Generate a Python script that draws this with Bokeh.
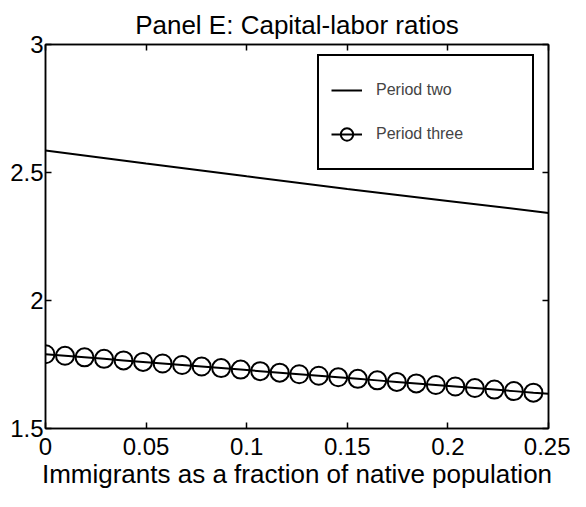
from bokeh.plotting import figure
from bokeh.models import (Range1d, LinearAxis, FixedTicker, Legend, LegendItem, Title)
from bokeh.embed import file_html
from bokeh.resources import INLINE

# ---- data ----
title_text = "Panel E: Capital-labor ratios"
x_label = "Immigrants as a fraction of native population"
x_ticks = [0, 0.05, 0.1, 0.15, 0.2, 0.25]
y_ticks = [1.5, 2, 2.5, 3]

x_two = [0.0, 0.05, 0.10, 0.15, 0.20, 0.25]
y_two = [2.586, 2.535, 2.485, 2.436, 2.389, 2.342]

x_three = [0, 0.0097, 0.0194, 0.0291, 0.0388, 0.0485, 0.0582, 0.0679, 0.0776,
           0.0873, 0.097, 0.1067, 0.1164, 0.1261, 0.1358, 0.1455, 0.1552,
           0.1649, 0.1746, 0.1843, 0.194, 0.2037, 0.2134, 0.2231, 0.2328, 0.2425]
y_three = [1.790, 1.784, 1.778, 1.772, 1.766, 1.760, 1.754, 1.748, 1.742,
           1.736, 1.730, 1.724, 1.718, 1.712, 1.706, 1.700, 1.694, 1.688,
           1.682, 1.676, 1.670, 1.664, 1.658, 1.652, 1.646, 1.640]
x_three_end = [0.25]
y_three_end = [1.636]

FONT = "Liberation Sans"

p = figure(width=570, height=491, output_backend="svg", toolbar_location=None,
           x_range=Range1d(0, 0.25), y_range=Range1d(1.5, 3),
           min_border_left=45, min_border_right=22, min_border_top=44,
           min_border_bottom=59, x_axis_location=None, y_axis_location=None)
p.xgrid.visible = False
p.ygrid.visible = False
p.outline_line_color = "black"
p.outline_line_width = 1.5
p.background_fill_color = "white"
p.border_fill_color = "white"

def style_axis(ax, labels=True, standoff=4):
    ax.axis_line_color = "black"
    ax.axis_line_width = 1.5
    ax.major_tick_in = 6
    ax.major_tick_out = 0
    ax.major_tick_line_width = 1.5
    ax.major_tick_line_color = "black"
    ax.minor_tick_line_color = None
    ax.major_label_text_font = FONT
    ax.major_label_text_font_size = "24px"
    ax.major_label_text_color = "black"
    ax.major_label_standoff = standoff
    if not labels:
        ax.major_label_text_font_size = "0px"
        ax.major_label_text_color = None
        ax.major_label_standoff = 0

tx = LinearAxis(ticker=FixedTicker(ticks=x_ticks))
style_axis(tx, labels=False)
p.add_layout(tx, "above")

t = Title(text=title_text, text_font=FONT, text_font_size="26px",
          text_font_style="normal", align="center", text_color="black",
          text_line_height=0.75, offset=0, standoff=10)
p.add_layout(t, "above")

bx = LinearAxis(ticker=FixedTicker(ticks=x_ticks), axis_label=x_label,
                axis_label_text_font=FONT, axis_label_text_font_size="26px",
                axis_label_text_font_style="normal", axis_label_standoff=1,
                axis_label_text_line_height=0.75,
                axis_label_text_color="black")
bx.major_label_overrides = {0: "0", 0.05: "0.05", 0.1: "0.1", 0.15: "0.15", 0.2: "0.2", 0.25: "0.25"}
style_axis(bx, standoff=9)
p.add_layout(bx, "below")

ly = LinearAxis(ticker=FixedTicker(ticks=y_ticks))
ly.major_label_overrides = {1.5: "1.5", 2: "2", 2.5: "2.5", 3: "3"}
style_axis(ly, standoff=2)
p.add_layout(ly, "left")

ry = LinearAxis(ticker=FixedTicker(ticks=y_ticks))
style_axis(ry, labels=False)
p.add_layout(ry, "right")

r_two = p.line(x_two, y_two, line_color="black", line_width=2)
r_three_line = p.line(x_three + x_three_end, y_three + y_three_end,
                      line_color="black", line_width=2)
r_three_pts = p.scatter(x_three, y_three, marker="circle", size=18,
                        fill_color=None, line_color="black", line_width=2)

legend = Legend(items=[LegendItem(label="Period two", renderers=[r_two]),
                       LegendItem(label="Period three", renderers=[r_three_line, r_three_pts])],
                location=(272, 258), padding=12, spacing=0,
                glyph_width=31, glyph_height=44, label_height=44,
                label_standoff=14, label_width=144,
                label_text_font=FONT, label_text_font_size="16px",
                border_line_color="black", border_line_width=2, border_line_alpha=1.0,
                background_fill_alpha=1.0, margin=0)
p.add_layout(legend, "center")

open("out.html", "w").write(file_html(p, INLINE))
